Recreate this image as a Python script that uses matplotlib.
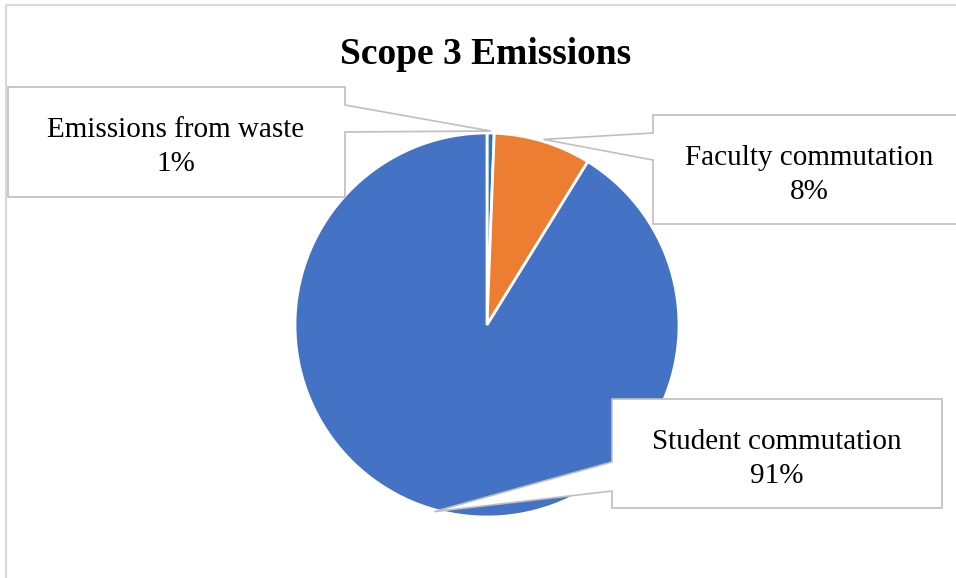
import numpy as np
import matplotlib
matplotlib.use("Agg")
import matplotlib.pyplot as plt
from matplotlib.patches import Polygon

# данные
categories = ["Emissions from waste", "Faculty commutation", "Student commutation"]
shares = [0.6, 8.2, 91.2]
colors = ["#2E75B6", "#ED7D31", "#4472C4"]

W, H = 956, 578
fig = plt.figure(figsize=(W / 100, H / 100), dpi=100)
ax = fig.add_axes([0, 0, 1, 1])

plt.rcParams['font.family'] = ['Liberation Serif', 'DejaVu Serif']

cx, cy, r = 487, H - 325, 192
wedges, _ = ax.pie(shares, colors=colors, startangle=90, counterclock=False,
                   center=(cx, cy), radius=r,
                   wedgeprops=dict(edgecolor="white", linewidth=2))
ax.set_xlim(0, W)
ax.set_ylim(0, H)
ax.set_aspect("auto")
ax.axis("off")

# рамка діаграми
ax.plot([6, 6, W + 5], [-5, H - 5, H - 5], color="#D9D9D9", lw=1.5, clip_on=False)

# точки на краю сегментів (середина кута)
total = sum(shares)
cum = np.cumsum([0] + shares)
tips = []
for i in range(len(shares)):
    mid = (cum[i] + shares[i] / 2) / total * 360
    a = np.radians(90 - mid)
    tips.append((cx + (r + 2) * np.cos(a), cy + (r + 2) * np.sin(a)))

def yy(p):
    return H - p

# коробки-виноски: (ліво, верх, право, низ), сторона, діапазон клина, центр тексту
boxes = [
    ((8, 87, 345, 197), "right", (105, 132), (176, 147)),
    ((653, 115, 965, 224), "left", (133, 160), (809, 175)),
    ((612, 399, 942, 508), "left", (462, 491), (777, 459)),
]

for i, (box, side, (w1, w2), (tx, ty)) in enumerate(boxes):
    l, t, rr, b = box
    tip = tips[i]
    if side == "right":
        pts = [(l, yy(t)), (rr, yy(t)), (rr, yy(w1)), tip, (rr, yy(w2)),
               (rr, yy(b)), (l, yy(b))]
    else:
        pts = [(l, yy(t)), (rr, yy(t)), (rr, yy(b)), (l, yy(b)), (l, yy(w2)),
               tip, (l, yy(w1))]
    ax.add_patch(Polygon(pts, closed=True, facecolor="white", edgecolor="#BFBFBF",
                         lw=1.2, zorder=3, clip_on=False))
    pct = f"{round(shares[i] / total * 100)}%"
    ax.text(tx, yy(ty), f"{categories[i]}\n{pct}", ha="center", va="center",
            fontsize=21, color="black", zorder=4, linespacing=1.4)

ax.text(486, yy(54), "Scope 3 Emissions", ha="center", va="center",
        fontsize=27, fontweight="bold", color="black")

fig.savefig("out.png", dpi=100)
